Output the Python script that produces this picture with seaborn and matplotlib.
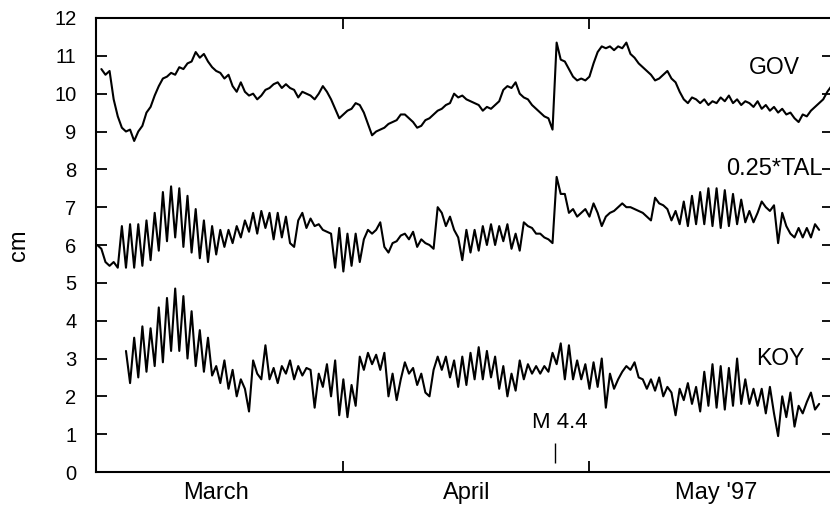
import numpy as np
import matplotlib
matplotlib.use("Agg")
import matplotlib.pyplot as plt
import seaborn as sns

# time axis: days counted from 1 March 1997, one reading every half day
STEP = 0.5

gov_start = 1.5
gov_cm = [
    10.65, 10.5, 10.6, 9.85, 9.4, 9.1, 9.0, 9.05, 8.75, 9.0,
    9.15, 9.5, 9.65, 9.95, 10.2, 10.4, 10.45, 10.55, 10.5, 10.7,
    10.65, 10.8, 10.85, 11.1, 10.95, 11.05, 10.85, 10.7, 10.6, 10.55,
    10.4, 10.5, 10.2, 10.05, 10.3, 10.05, 9.95, 10.0, 9.85, 9.95,
    10.1, 10.15, 10.25, 10.3, 10.15, 10.25, 10.15, 10.1, 9.9, 10.05,
    10.0, 9.95, 9.85, 10.0, 10.2, 10.05, 9.85, 9.6, 9.35, 9.45,
    9.55, 9.6, 9.75, 9.7, 9.5, 9.2, 8.9, 9.0, 9.05, 9.1,
    9.2, 9.25, 9.3, 9.45, 9.45, 9.35, 9.25, 9.1, 9.15, 9.3,
    9.35, 9.45, 9.55, 9.6, 9.7, 9.75, 10.0, 9.9, 9.95, 9.85,
    9.8, 9.75, 9.7, 9.55, 9.65, 9.6, 9.7, 9.8, 10.1, 10.2,
    10.15, 10.3, 10.0, 9.9, 9.85, 9.7, 9.6, 9.5, 9.4, 9.35,
    9.05, 11.35, 10.9, 10.85, 10.65, 10.45, 10.35, 10.4, 10.35, 10.45,
    10.8, 11.1, 11.25, 11.2, 11.25, 11.15, 11.25, 11.2, 11.35, 11.05,
    10.95, 10.8, 10.7, 10.6, 10.5, 10.35, 10.4, 10.5, 10.6, 10.4,
    10.3, 10.05, 9.85, 9.75, 9.9, 9.85, 9.75, 9.85, 9.7, 9.8,
    9.75, 9.9, 9.8, 9.95, 9.75, 9.85, 9.7, 9.8, 9.75, 9.65,
    9.8, 9.6, 9.7, 9.55, 9.65, 9.5, 9.6, 9.45, 9.5, 9.35,
    9.25, 9.45, 9.4, 9.55, 9.65, 9.75, 9.85, 10.05, 10.2,
]

tal_start = 1.0
tal_quarter_cm = [
    6.0, 5.9, 5.55, 5.45, 5.55, 5.4, 6.5, 5.4, 6.55, 5.4,
    6.55, 5.45, 6.65, 5.6, 6.85, 5.85, 7.4, 6.1, 7.55, 6.2,
    7.5, 5.95, 7.3, 5.8, 6.95, 5.65, 6.65, 5.55, 6.5, 5.75,
    6.4, 5.95, 6.4, 6.05, 6.5, 6.2, 6.65, 6.35, 6.85, 6.3,
    6.9, 6.45, 6.85, 6.15, 6.85, 6.2, 6.75, 6.05, 5.95, 6.65,
    6.85, 6.45, 6.7, 6.5, 6.55, 6.4, 6.35, 6.3, 5.4, 6.45,
    5.3, 6.3, 5.45, 6.3, 5.55, 6.15, 6.4, 6.3, 6.4, 6.6,
    5.95, 5.8, 6.05, 6.1, 6.25, 6.3, 6.15, 6.35, 5.95, 6.15,
    6.05, 6.0, 5.9, 7.0, 6.85, 6.5, 6.75, 6.4, 6.2, 5.6,
    6.4, 5.8, 6.4, 5.85, 6.5, 6.0, 6.55, 6.0, 6.5, 6.1,
    6.55, 5.9, 6.3, 5.85, 6.6, 6.5, 6.45, 6.3, 6.3, 6.2,
    6.15, 6.05, 7.8, 7.35, 7.35, 6.85, 6.95, 6.75, 6.85, 6.95,
    6.75, 7.1, 6.85, 6.5, 6.75, 6.85, 6.9, 7.0, 7.1, 7.0,
    7.0, 6.95, 6.9, 6.85, 6.75, 6.65, 7.25, 7.1, 7.05, 6.95,
    6.65, 6.9, 6.55, 7.15, 6.5, 7.3, 6.55, 7.4, 6.55, 7.5,
    6.5, 7.5, 6.45, 7.45, 6.5, 7.35, 6.55, 7.2, 6.6, 6.9,
    6.6, 6.85, 7.15, 7.0, 6.9, 7.05, 6.05, 6.85, 6.5, 6.3,
    6.2, 6.45, 6.2, 6.45, 6.2, 6.55, 6.4,
]

koy_start = 4.5
koy_cm = [
    3.2, 2.35, 3.55, 2.5, 3.85, 2.65, 3.8, 2.8, 4.35, 2.9,
    4.6, 3.2, 4.85, 3.2, 4.65, 3.0, 4.25, 2.8, 3.75, 2.65,
    3.55, 2.55, 2.8, 2.35, 2.95, 2.2, 2.7, 2.0, 2.45, 2.2,
    1.6, 2.95, 2.6, 2.45, 3.35, 2.45, 2.75, 2.35, 2.8, 2.6,
    2.95, 2.45, 2.8, 2.55, 2.75, 2.7, 1.7, 2.6, 2.25, 2.85,
    2.0, 2.95, 1.5, 2.45, 1.45, 2.3, 1.75, 3.05, 2.7, 3.15,
    2.85, 3.1, 2.7, 3.15, 2.0, 2.6, 1.9, 2.45, 2.9, 2.6,
    2.75, 2.3, 2.6, 2.1, 2.0, 2.7, 3.05, 2.7, 3.05, 2.5,
    2.95, 2.25, 3.05, 2.3, 3.15, 2.45, 3.3, 2.45, 3.2, 2.5,
    3.05, 2.2, 2.8, 2.0, 2.6, 2.15, 2.95, 2.45, 2.85, 2.6,
    2.8, 2.6, 2.8, 2.65, 3.15, 2.85, 3.4, 2.45, 3.35, 2.45,
    2.95, 2.45, 2.85, 2.2, 2.9, 2.25, 3.0, 1.7, 2.6, 2.2,
    2.45, 2.65, 2.8, 2.7, 2.9, 2.5, 2.45, 2.2, 2.45, 2.15,
    2.5, 2.0, 2.25, 2.1, 1.5, 2.2, 1.9, 2.35, 1.8, 2.25,
    1.6, 2.65, 1.75, 2.85, 1.7, 2.8, 1.65, 2.75, 1.75, 3.0,
    1.8, 2.45, 1.8, 2.2, 1.75, 2.2, 1.55, 2.25, 1.55, 0.95,
    2.0, 1.45, 2.1, 1.2, 1.75, 1.55, 1.85, 2.1, 1.65, 1.8,
]

month_edges = [31, 61]
month_mids = [15.5, 46, 76.5]
month_names = ["March", "April", "May '97"]
quake_day = 56.8

sns.set_style("ticks")
plt.rcParams['font.family'] = ['Liberation Sans', 'DejaVu Sans']
plt.rcParams['text.color'] = 'black'
plt.rcParams['axes.labelcolor'] = 'black'
plt.rcParams['xtick.color'] = 'black'
plt.rcParams['ytick.color'] = 'black'

fig = plt.figure(figsize=(8.3, 5.07), dpi=100)
ax = fig.add_axes([0.1157, 0.069, 0.888, 0.8955])

for start, vals in [(gov_start, gov_cm), (tal_start, tal_quarter_cm), (koy_start, koy_cm)]:
    days = start + STEP * np.arange(len(vals))
    sns.lineplot(x=days, y=vals, ax=ax, color='black', linewidth=1.5,
                 sort=False, estimator=None)

ax.set_xlim(0.85, 90.7)
ax.set_ylim(0, 12)

for sp in ax.spines.values():
    sp.set_color('black')
    sp.set_linewidth(1.5)

ax.set_yticks(range(13))
ax.set_xticks(month_edges)
ax.set_xticklabels([])
ax.set_xticks(month_mids, minor=True)
ax.set_xticklabels(month_names, minor=True, fontsize=17)
ax.tick_params(axis='both', which='major', direction='in', length=8, width=1.3,
               color='black', labelcolor='black', top=True, right=True,
               labelsize=14.5)
ax.tick_params(axis='y', pad=14)
ax.tick_params(axis='x', which='minor', length=0, pad=7, top=False,
               labelcolor='black')

ax.set_ylabel("cm", fontsize=17, color='black')
ax.yaxis.set_label_coords(-0.1045, 0.5)
ax.yaxis.label.set_verticalalignment('center')

ax.text(83.5, 10.68, "GOV", ha='center', va='center', fontsize=16.5)
ax.text(89.4, 8.0, "0.25*TAL", ha='right', va='center', fontsize=17)
ax.text(84.3, 3.0, "KOY", ha='center', va='center', fontsize=16.5)
ax.text(57.4, 1.32, "M 4.4", ha='center', va='center', fontsize=16)
ax.vlines(quake_day, 0.25, 0.77, color='black', linewidth=1.0)

fig.savefig("out.png", dpi=100)
